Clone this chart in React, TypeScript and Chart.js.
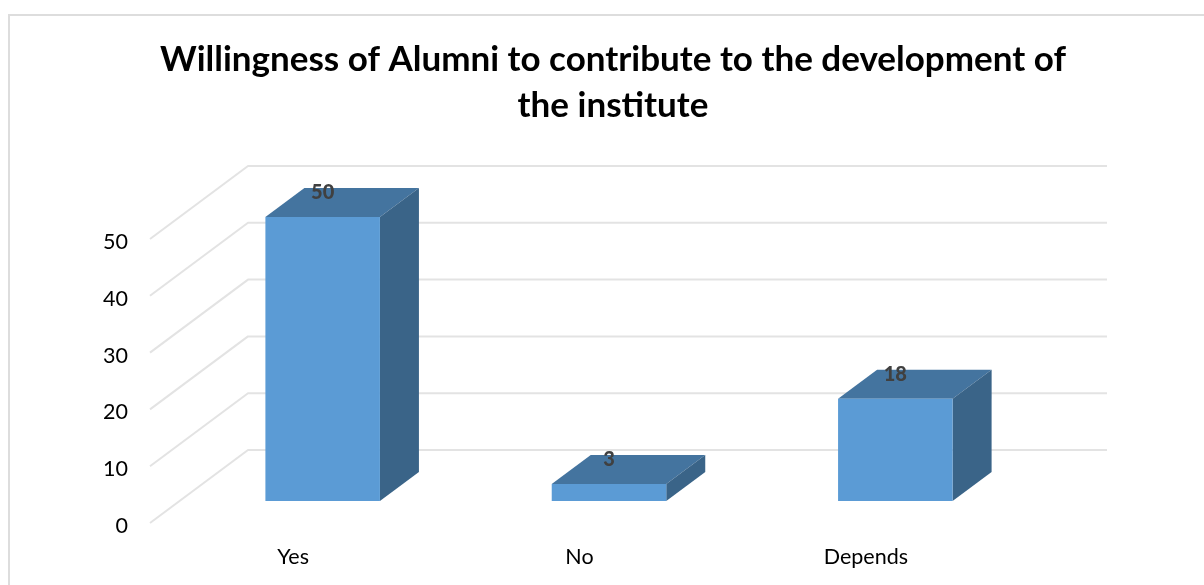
import React, { useEffect, useRef } from "react";
import { Chart, registerables } from "chart.js";

Chart.register(...registerables);

const categories = ["Yes", "No", "Depends"];
const values = [50, 3, 18];
const titleLines = ["Willingness of Alumni to contribute to the development of", "the institute"];
const FONT = "Lato, Carlito, 'Open Sans', sans-serif";

const FRONT = "#5B9BD5";
const TOP = "#44749F";
const SIDE = "#3A6488";
const GRID = "#E3E3E3";
const FRAME = "#DDDDDD";
const GRID_DY = -3;
const WALL_DX = 98;
const WALL_DY = -73;
const BAR_DX = 29.5;
const BAR_DY = -25;
const DEPTH_DX = 39;
const DEPTH_DY = -29;
const GRID_RIGHT = 1107;

const pseudo3d = {
  id: "pseudo3d",
  beforeDraw(chart: any) {
    const { ctx, width, height } = chart;
    ctx.save();
    ctx.fillStyle = "#FFFFFF";
    ctx.fillRect(0, 0, width, height);
    ctx.strokeStyle = FRAME;
    ctx.lineWidth = 2;
    ctx.beginPath();
    ctx.moveTo(9, height);
    ctx.lineTo(9, 15);
    ctx.lineTo(width, 15);
    ctx.stroke();
    ctx.restore();
  },
  afterLayout(chart: any) {
    // centre the title over the whole picture, not over the plot
    chart.titleBlock.left = 22;
    chart.titleBlock.right = 1204;
  },
  beforeDatasetsDraw(chart: any) {
    const { ctx } = chart;
    const y = chart.scales.y;
    const x0 = chart.chartArea.left;
    ctx.save();
    ctx.strokeStyle = GRID;
    ctx.lineWidth = 2;
    ctx.lineJoin = "round";
    y.ticks.forEach((t: any) => {
      const py = y.getPixelForValue(t.value) + GRID_DY;
      ctx.beginPath();
      ctx.moveTo(x0, py);
      ctx.lineTo(x0 + WALL_DX, py + WALL_DY);
      ctx.lineTo(GRID_RIGHT, py + WALL_DY);
      ctx.stroke();
    });
    ctx.restore();

    ctx.save();
    ctx.translate(BAR_DX, BAR_DY);
    chart.getDatasetMeta(0).data.forEach((b: any) => {
      const l = b.x - b.width / 2;
      const r = b.x + b.width / 2;
      ctx.fillStyle = TOP;
      ctx.beginPath();
      ctx.moveTo(l, b.y);
      ctx.lineTo(l + DEPTH_DX, b.y + DEPTH_DY);
      ctx.lineTo(r + DEPTH_DX, b.y + DEPTH_DY);
      ctx.lineTo(r, b.y);
      ctx.closePath();
      ctx.fill();
      ctx.fillStyle = SIDE;
      ctx.beginPath();
      ctx.moveTo(r, b.y);
      ctx.lineTo(r + DEPTH_DX, b.y + DEPTH_DY);
      ctx.lineTo(r + DEPTH_DX, b.base + DEPTH_DY);
      ctx.lineTo(r, b.base);
      ctx.closePath();
      ctx.fill();
    });
  },
  afterDatasetsDraw(chart: any) {
    const { ctx } = chart;
    ctx.restore();
    ctx.save();
    ctx.fillStyle = "#404040";
    ctx.font = `900 20px ${FONT}`;
    ctx.textAlign = "center";
    ctx.textBaseline = "middle";
    chart.getDatasetMeta(0).data.forEach((b: any, i: number) => {
      ctx.fillText(String(values[i]), b.x + BAR_DX, b.y + BAR_DY - 24);
    });
    ctx.restore();
  },
};

export default function App() {
  const ref = useRef<HTMLCanvasElement>(null);
  useEffect(() => {
    const chart = new Chart(ref.current as HTMLCanvasElement, {
      type: "bar",
      data: {
        labels: categories,
        datasets: [
          {
            data: values,
            backgroundColor: FRONT,
            barPercentage: 0.4,
            categoryPercentage: 1,
          },
        ],
      },
      options: {
        responsive: false,
        animation: false,
        layout: { padding: { right: 195 } },
        plugins: {
          legend: { display: false },
          tooltip: { enabled: false },
          title: {
            display: true,
            text: titleLines,
            color: "#000000",
            font: { family: FONT, size: 35, weight: "bold", lineHeight: 46 / 35 },
            padding: { top: 37, bottom: 113 },
          },
        },
        scales: {
          x: {
            grid: { display: false },
            border: { display: false },
            ticks: { color: "#000000", font: { family: FONT, size: 21.5 }, padding: 10, maxRotation: 0 },
            afterFit(s: any) {
              s.height = 59;
            },
          },
          y: {
            min: 0,
            max: 50,
            grid: { display: false },
            border: { display: false },
            ticks: { stepSize: 10, color: "#000000", font: { family: FONT, size: 21.5 }, padding: 14 },
            afterFit(s: any) {
              s.width = 150;
            },
          },
        },
      },
      plugins: [pseudo3d],
    } as any);
    return () => chart.destroy();
  }, []);
  return (
    <canvas
      ref={ref}
      width={1204}
      height={585}
      style={{ position: "fixed", left: 0, top: 0, width: 1204, height: 585, filter: "blur(0.4px)" }}
    />
  );
}
